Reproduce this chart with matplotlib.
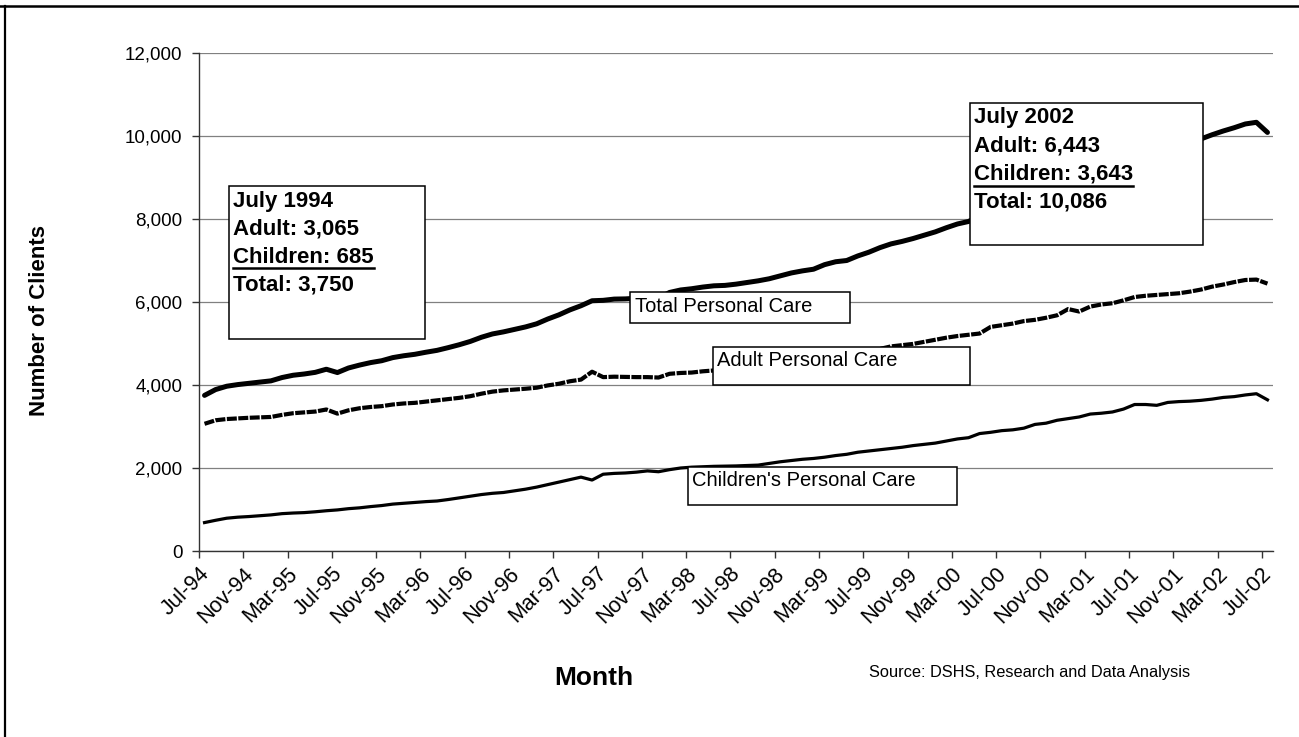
import numpy as np
import matplotlib
matplotlib.use('Agg')
import matplotlib.pyplot as plt
from matplotlib.patches import Rectangle
from matplotlib.lines import Line2D
from matplotlib.ticker import FuncFormatter
from matplotlib.transforms import ScaledTranslation

plt.rcParams['font.family'] = ['Liberation Sans', 'DejaVu Sans']

# monthly client counts, Jul-94 .. Jul-02
adult = [
    3065, 3150, 3180, 3195, 3210, 3220, 3230, 3280, 3320, 3340,
    3360, 3410, 3310, 3390, 3440, 3470, 3490, 3530, 3555, 3570,
    3600, 3630, 3660, 3690, 3730, 3790, 3840, 3870, 3890, 3910,
    3935, 3990, 4030, 4090, 4130, 4320, 4190, 4200, 4195, 4190,
    4190, 4180, 4270, 4290, 4300, 4330, 4350, 4355, 4380, 4410,
    4440, 4450, 4480, 4520, 4540, 4560, 4640, 4670, 4670, 4730,
    4790, 4870, 4930, 4960, 4990, 5040, 5090, 5140, 5180, 5210,
    5240, 5400, 5440, 5480, 5540, 5570, 5620, 5680, 5830, 5770,
    5890, 5940, 5970, 6040, 6120, 6150, 6170, 6190, 6210, 6250,
    6300, 6370, 6420, 6480, 6530, 6540, 6443]
children = [
    685, 740, 790, 815, 830, 850, 870, 900, 915, 925,
    945, 970, 990, 1020, 1040, 1070, 1095, 1130, 1150, 1170,
    1190, 1205, 1240, 1280, 1320, 1360, 1390, 1410, 1450, 1490,
    1540, 1600, 1660, 1720, 1780, 1710, 1850, 1870, 1880, 1900,
    1930, 1910, 1960, 2000, 2020, 2030, 2040, 2045, 2050, 2060,
    2070, 2110, 2150, 2180, 2210, 2230, 2260, 2300, 2330, 2380,
    2410, 2440, 2470, 2500, 2540, 2570, 2600, 2650, 2700, 2730,
    2830, 2860, 2900, 2920, 2960, 3050, 3080, 3150, 3190, 3230,
    3300, 3320, 3350, 3420, 3530, 3530, 3510, 3580, 3600, 3610,
    3630, 3660, 3700, 3720, 3760, 3790, 3643]
total = [a + c for a, c in zip(adult, children)]

tick_labels = ['Jul-94', 'Nov-94', 'Mar-95', 'Jul-95', 'Nov-95', 'Mar-96',
               'Jul-96', 'Nov-96', 'Mar-97', 'Jul-97', 'Nov-97', 'Mar-98',
               'Jul-98', 'Nov-98', 'Mar-99', 'Jul-99', 'Nov-99', 'Mar-00',
               'Jul-00', 'Nov-00', 'Mar-01', 'Jul-01', 'Nov-01', 'Mar-02',
               'Jul-02']

W, H = 1299, 737
fig = plt.figure(figsize=(W / 100, H / 100), dpi=100)


def fx(x):
    return x / W


def fy(y):
    return 1 - y / H


ax = fig.add_axes([fx(199), fy(551), (1273 - 199) / W, (551 - 53) / H])

x = np.arange(len(adult))
ax.plot(x, total, color='black', lw=3.6, solid_joinstyle='round',
        solid_capstyle='round', zorder=3)
ax.plot(x, adult, color='black', lw=3.0, dashes=(2.4, 0.35), zorder=3)
ax.plot(x, children, color='black', lw=2.3, solid_joinstyle='round', zorder=3)

ax.set_xlim(-0.5, len(adult) - 0.5)
ax.set_ylim(0, 12000)
ax.set_yticks(range(0, 12001, 2000))
ax.yaxis.set_major_formatter(FuncFormatter(lambda v, p: f'{int(v):,}'))
ax.grid(axis='y', color='#808080', lw=0.9)
ax.set_axisbelow(True)
for s in ['top', 'right']:
    ax.spines[s].set_visible(False)
for s in ['left', 'bottom']:
    ax.spines[s].set_color('#333333')
    ax.spines[s].set_linewidth(1.0)

# tick marks between categories, labels on every 4th month
ax.set_xticks(np.arange(-0.5, len(adult) - 1, 4))
ax.set_xticklabels([])
ax.set_xticks(x[::4], tick_labels, minor=True, rotation=45, ha='right',
              rotation_mode='anchor', fontsize=15.5)
ax.tick_params(axis='x', which='major', direction='out', length=5, width=1,
               color='#333333')
ax.tick_params(axis='x', which='minor', length=0, pad=9)
ax.tick_params(axis='y', direction='out', length=5, width=1, color='#333333',
               labelsize=13.5, pad=7)
shift = ScaledTranslation(-6 / 100, 0, fig.dpi_scale_trans)
for lbl in ax.get_xticklabels(minor=True):
    lbl.set_transform(lbl.get_transform() + shift)

fig.text(fx(40), fy(320), 'Number of Clients', rotation=90, fontsize=16,
         weight='bold', ha='center', va='center')
fig.text(fx(594), fy(678), 'Month', fontsize=19, weight='bold',
         ha='center', va='center')
fig.text(fx(869), fy(672), 'Source: DSHS, Research and Data Analysis',
         fontsize=11.8, ha='left', va='center')


def box(x0, y0, x1, y1):
    fig.add_artist(Rectangle((fx(x0), fy(y1)), (x1 - x0) / W, (y1 - y0) / H,
                             transform=fig.transFigure, fc='white',
                             ec='black', lw=1.1, zorder=5))


# series labels
box(630, 292, 850, 323)
fig.text(fx(635), fy(306), 'Total Personal Care', fontsize=14.5,
         va='center', zorder=6)
box(713, 347, 970, 385)
fig.text(fx(717), fy(361), 'Adult Personal Care', fontsize=14.5,
         va='center', zorder=6)
box(688, 467, 957, 505)
fig.text(fx(692), fy(481), "Children's Personal Care", fontsize=14.5,
         va='center', zorder=6)

renderer = fig.canvas.get_renderer()


def note(x0, y0, x1, y1, lines, underline_y):
    box(x0, y0, x1, y1)
    for k, s in enumerate(lines):
        t = fig.text(fx(x0 + 4), fy(y0 + 15 + 28 * k), s, fontsize=16,
                     weight='bold', va='center', zorder=6)
        if k == 2:
            bb = t.get_window_extent(renderer)
            fig.add_artist(Line2D([bb.x0 / W, bb.x1 / W],
                                  [fy(underline_y)] * 2,
                                  transform=fig.transFigure, color='black',
                                  lw=1.8, zorder=6))


note(229, 186, 425, 339,
     ['July 1994', f'Adult: {adult[0]:,}', f'Children: {children[0]:,}',
      f'Total: {total[0]:,}'], 268)
note(970, 103, 1203, 245,
     ['July 2002', f'Adult: {adult[-1]:,}', f'Children: {children[-1]:,}',
      f'Total: {total[-1]:,}'], 186)

# chart border
fig.add_artist(Line2D([0, 1], [fy(6)] * 2, transform=fig.transFigure,
                      color='black', lw=1.8))
fig.add_artist(Line2D([fx(5.5)] * 2, [0, fy(6)], transform=fig.transFigure,
                      color='black', lw=1.6))

fig.savefig('out.png', dpi=100)
